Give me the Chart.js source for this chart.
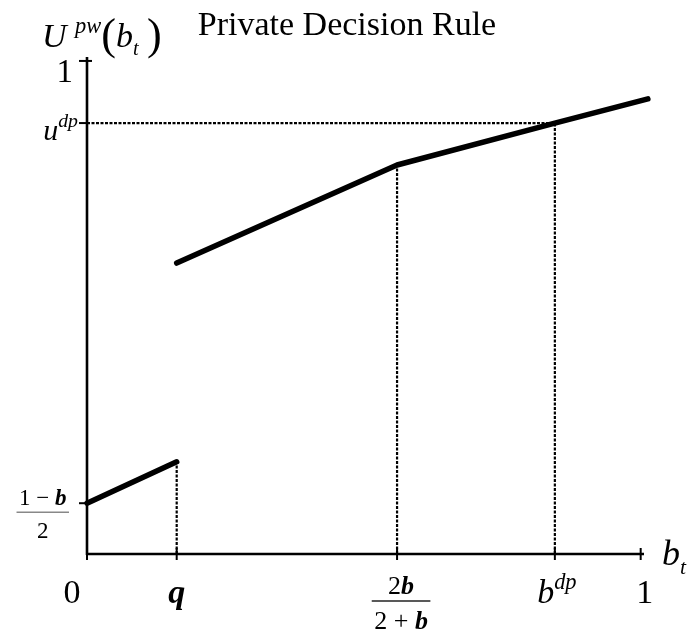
<!DOCTYPE html>
<html><head><meta charset="utf-8">
<style>html,body{margin:0;padding:0;background:#fff}#wrap{width:693px;height:637px}</style>
<script src="https://cdn.jsdelivr.net/npm/chart.js@4"></script>
</head><body><div id="wrap"><canvas id="c" width="693" height="637"></canvas></div>
<script>
// ---- data ----
const titleText = 'Private Decision Rule';
const xTickValues = [0, 0.162, 0.560, 0.845, 1];
const xTickLabels = ['0', '!q', '2!b/2 + !b', 'b^(dp)', '1'];
const yTickValues = [0.103, 0.874, 1];
const yTickLabels = ['1 − !b/2', 'u^(dp)', '1'];
const xAxisTitle = 'b_(t)';
const yAxisTitle = 'U ^(pw)(b_(t) )';
const lowSegX = [0, 0.162];
const lowSegY = [0.103, 0.187];
const highSegX = [0.162, 0.560, 0.845, 1.013];
const highSegY = [0.590, 0.789, 0.874, 0.923];
const guideX = [0.162, 0.560, 0.845];
const guideTop = [0.187, 0.789, 0.874];
const levelY = 0.874;      // u^dp
const levelEndX = 0.845;   // b^dp

// ---- build datasets ----
const toPts = (xs, ys) => xs.map((x, i) => ({x, y: ys[i]}));
const dashStyle = {showLine:true, pointRadius:0, borderColor:'#000', borderWidth:2.2, borderDash:[3,1.5], clip:false, tension:0};
const curveStyle = {showLine:true, pointRadius:0, borderColor:'#000', borderWidth:5.5, borderCapStyle:'round', borderJoinStyle:'round', clip:false, tension:0};
const datasets = [];
guideX.forEach((gx, i) => datasets.push(Object.assign({data: toPts([gx, gx], [0, guideTop[i]])}, dashStyle)));
datasets.push(Object.assign({data: toPts([0, levelEndX], [levelY, levelY])}, dashStyle));
datasets.push(Object.assign({data: toPts(lowSegX, lowSegY)}, curveStyle));
datasets.push(Object.assign({data: toPts(highSegX, highSegY)}, curveStyle));

// ---- text helpers ----
const FAM = '"Liberation Serif", "Times New Roman", serif';
function tokenize(str, base) {
  const runs = []; let i = 0;
  while (i < str.length) {
    const c = str[i];
    if ((c === '^' || c === '_') && str[i+1] === '(') {
      const end = str.indexOf(')', i);
      runs.push({t: str.slice(i+2, end), size: base*(c === '^' ? 0.66 : 0.6), style:'italic', weight:'normal',
                 dy: c === '^' ? -base*0.42 : base*0.24});
      i = end + 1; continue;
    }
    if (c === '!') { runs.push({t: str[i+1], size: base, style:'italic', weight:'bold', dy:0}); i += 2; continue; }
    if (c === '(' || c === ')') { runs.push({t:c, size: base*1.3, style:'normal', weight:'normal', dy: base*0.05}); i++; continue; }
    runs.push({t:c, size:base, style: /[A-Za-z]/.test(c) ? 'italic' : 'normal', weight:'normal', dy:0});
    i++;
  }
  return runs;
}
function fontOf(r){ return `${r.style} ${r.weight} ${r.size}px ${FAM}`; }
function measure(ctx, runs){ let w = 0; runs.forEach(r => { ctx.font = fontOf(r); w += ctx.measureText(r.t).width; }); return w; }
function drawRuns(ctx, runs, x, y){
  ctx.textBaseline = 'alphabetic'; ctx.textAlign = 'left';
  runs.forEach(r => { ctx.font = fontOf(r); ctx.fillText(r.t, x, y + r.dy); x += ctx.measureText(r.t).width; });
}
// draw a label; anchor: 'center' or 'right' at x; y = baseline (or fraction bar y)
function drawLabel(ctx, str, base, x, y, anchor, barColor){
  if (str.includes('/')) {
    const [n, d] = str.split('/');
    const rn = tokenize(n, base), rd = tokenize(d, base);
    const wn = measure(ctx, rn), wd = measure(ctx, rd), wb = Math.max(wn, wd) + 5;
    const cx = anchor === 'right' ? x - wb/2 : x;
    drawRuns(ctx, rn, cx - wn/2, y - 7);
    drawRuns(ctx, rd, cx - wd/2, y + base*0.68 + 10);
    ctx.save(); ctx.strokeStyle = barColor; ctx.lineWidth = 1.5;
    ctx.beginPath(); ctx.moveTo(cx - wb/2, y); ctx.lineTo(cx + wb/2, y); ctx.stroke(); ctx.restore();
  } else {
    const r = tokenize(str, base), w = measure(ctx, r);
    drawRuns(ctx, r, anchor === 'right' ? x - w : x - w/2, y);
  }
}

// ---- layout (styles / offsets, not data) ----
const xLabelDx = [-15, 0, 4, 2, 4];
const yLabelStyle = [ {size:23, gap:18, dy:9}, {size:30, gap:9, dy:17}, {size:33, gap:14, dy:21} ];

const axesPlugin = {
  id: 'axesPlugin',
  afterDraw(chart){
    const ctx = chart.ctx, xs = chart.scales.x, ys = chart.scales.y;
    const x0 = xs.getPixelForValue(0), y0 = ys.getPixelForValue(0);
    ctx.save();
    ctx.fillStyle = '#000'; ctx.strokeStyle = '#000';
    // axes
    ctx.lineWidth = 2.6; ctx.lineCap = 'butt';
    ctx.beginPath(); ctx.moveTo(x0, y0 + 1); ctx.lineTo(x0, ys.top); ctx.stroke();
    ctx.beginPath(); ctx.moveTo(x0 - 1, y0); ctx.lineTo(xs.right, y0); ctx.stroke();
    // ticks
    ctx.lineWidth = 2;
    xTickValues.forEach((v, i) => {
      const px = xs.getPixelForValue(v);
      ctx.beginPath(); ctx.moveTo(px, i === 0 ? y0 : y0 - 6); ctx.lineTo(px, y0 + 6); ctx.stroke();
    });
    yTickValues.forEach((v, i) => {
      const py = ys.getPixelForValue(v);
      ctx.beginPath(); ctx.moveTo(x0 - 8, py); ctx.lineTo(x0 + (i === 2 ? 5 : 0), py); ctx.stroke();
    });
    // x tick labels
    xTickValues.forEach((v, i) => {
      const px = xs.getPixelForValue(v) + xLabelDx[i];
      const lab = xTickLabels[i];
      if (lab.includes('/')) drawLabel(ctx, lab, 26, px, y0 + 47, 'center', '#222');
      else drawLabel(ctx, lab, 34, px, y0 + 49, 'center');
    });
    // y tick labels
    yTickValues.forEach((v, i) => {
      const py = ys.getPixelForValue(v), st = yLabelStyle[i];
      drawLabel(ctx, yTickLabels[i], st.size, x0 - st.gap, py + st.dy, 'right', '#888');
    });
    // axis titles
    drawRuns(ctx, tokenize(yAxisTitle, 34), x0 - 45, ys.top - 10);
    drawRuns(ctx, tokenize(xAxisTitle, 36), xs.right + 18, y0 + 11);
    // chart title
    ctx.font = `normal 34px ${FAM}`; ctx.textAlign = 'center'; ctx.textBaseline = 'alphabetic';
    ctx.fillText(titleText, 347, 35);
    ctx.restore();
  }
};

new Chart(document.getElementById('c'), {
  type: 'scatter',
  data: { datasets },
  options: {
    responsive: false, animation: false, devicePixelRatio: 1,
    layout: { padding: { left: 87, right: 49, top: 57, bottom: 83 } },
    scales: {
      x: { type: 'linear', min: 0, max: 1.006, display: false },
      y: { type: 'linear', min: 0, max: 1.008, display: false }
    },
    plugins: { legend: { display: false }, tooltip: { enabled: false }, title: { display: false } }
  },
  plugins: [axesPlugin]
});
</script></body></html>
